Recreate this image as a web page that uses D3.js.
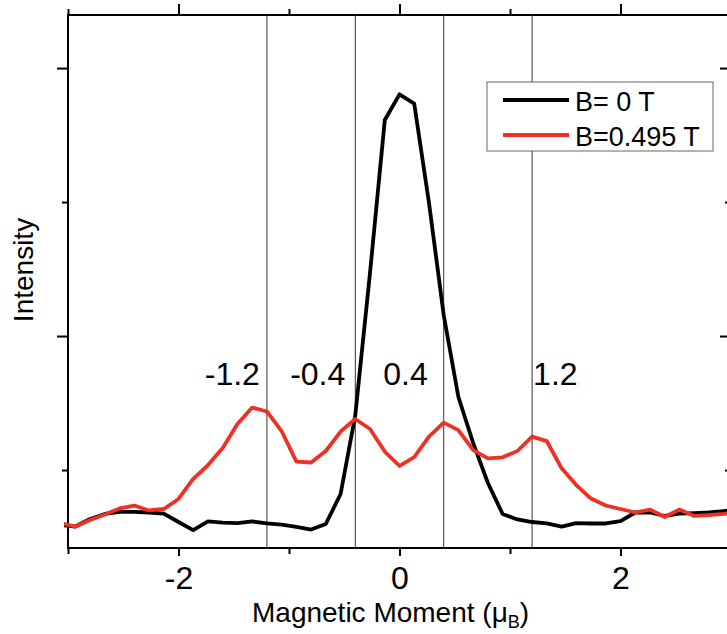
<!DOCTYPE html>
<html>
<head>
    <meta charset="utf-8">
    <title>Magnetic Moment distribution</title>
    <script src="https://cdn.jsdelivr.net/npm/d3@7"></script>
    <style>
        body { margin: 0; background: #fff; }
        text { font-family: "Liberation Sans", Arial, sans-serif; fill: #000; }
        .curve { fill: none; stroke-width: 3.8; stroke-linejoin: round; }
    </style>
</head>
<body>
<script>
    // Magnetic moment (mu_B) of each point, shared by both curves
    var moment = [-3.067, -2.933, -2.8, -2.667, -2.533, -2.4, -2.267, -2.133, -2.0, -1.867,
        -1.733, -1.6, -1.467, -1.333, -1.2, -1.067, -0.933, -0.8, -0.667, -0.533,
        -0.4, -0.267, -0.133, 0, 0.133, 0.267, 0.4, 0.533, 0.667, 0.8,
        0.933, 1.067, 1.2, 1.333, 1.467, 1.6, 1.733, 1.867, 2.0, 2.133,
        2.267, 2.4, 2.533, 2.667, 2.8, 2.933, 3.067];

    // Intensity (arb. units) at B = 0 T
    var intensityB0 = [590, 578, 634, 672, 687, 687, 683, 675, 612, 552,
        616, 608, 604, 616, 601, 593, 575, 556, 597, 821,
        1410, 2470, 3612, 3804, 3735, 2993, 2157, 1545, 1201, 903,
        672, 631, 612, 601, 578, 604, 601, 601, 619, 683,
        683, 657, 675, 679, 683, 694, 705];

    // Intensity (arb. units) at B = 0.495 T
    var intensityB495 = [604, 578, 627, 668, 713, 735, 698, 709, 784, 933,
        1037, 1164, 1343, 1466, 1437, 1291, 1063, 1056, 1142, 1287,
        1381, 1306, 1138, 1030, 1097, 1250, 1354, 1298, 1149, 1087,
        1095, 1142, 1249, 1216, 1013, 888, 787, 735, 709, 683,
        705, 649, 705, 657, 664, 672, 687];

    // Marked moments (vertical guides + labels)
    var markers = [-1.2, -0.4, 0.4, 1.2];
    var markerLabels = ["-1.2", "-0.4", "0.4", "1.2"];

    var seriesNames = ["B= 0 T", "B=0.495 T"];
    var seriesColors = ["#000000", "#ee3124"];

    var xMajorTicks = [-2, 0, 2];
    var xMinorTicks = [-3, -1, 1, 3];
    var yMajorTicks = [2000, 4000];
    var yMinorTicks = [1000, 3000];

    // Dimensions du svg et du cadre
    var width = 727,
        height = 634,
        frameLeft = 68, frameRight = 731, frameTop = 15, frameBottom = 548;

    var svg = d3.select("body").append("svg")
        .attr("width", width)
        .attr("height", height);

    var x = d3.scaleLinear().domain([-3, 3]).range([frameLeft, frameRight]);
    var y = d3.scaleLinear().domain([418, 4396]).range([frameBottom, frameTop]);

    // Axes (labels only on the bottom one)
    var bottomAxis = svg.append("g").attr("transform", "translate(0," + frameBottom + ")");
    bottomAxis.call(d3.axisBottom(x).tickValues(xMajorTicks).tickSize(8).tickPadding(10).tickFormat(d => String(d)));
    bottomAxis.append("g").call(d3.axisBottom(x).tickValues(xMinorTicks).tickSize(6).tickFormat(""));

    var topAxis = svg.append("g").attr("transform", "translate(0," + frameTop + ")");
    topAxis.call(d3.axisTop(x).tickValues(xMajorTicks).tickSize(11).tickFormat(""));
    topAxis.append("g").call(d3.axisTop(x).tickValues(xMinorTicks).tickSize(6).tickFormat(""));

    var leftAxis = svg.append("g").attr("transform", "translate(" + frameLeft + ",0)");
    leftAxis.call(d3.axisLeft(y).tickValues(yMajorTicks).tickSize(11).tickFormat(""));
    leftAxis.append("g").call(d3.axisLeft(y).tickValues(yMinorTicks).tickSize(6).tickFormat(""));

    var rightAxis = svg.append("g").attr("transform", "translate(" + frameRight + ",0)");
    rightAxis.call(d3.axisLeft(y).tickValues(yMajorTicks).tickSize(11).tickFormat(""));
    rightAxis.append("g").call(d3.axisLeft(y).tickValues(yMinorTicks).tickSize(6).tickFormat(""));

    svg.selectAll(".tick line").attr("stroke", "#000").attr("stroke-width", 2);
    bottomAxis.selectAll(".tick text").style("font-size", "32px").attr("fill", "#000");
    // d3 domain paths carry outer ticks: replace them by a plain frame
    svg.selectAll(".domain").remove();
    svg.append("rect")
        .attr("x", frameLeft).attr("y", frameTop)
        .attr("width", frameRight - frameLeft).attr("height", frameBottom - frameTop)
        .attr("fill", "none").attr("stroke", "#000").attr("stroke-width", 2);

    // Lignes verticales
    svg.selectAll(".marker")
        .data(markers)
        .enter().append("line")
        .attr("class", "marker")
        .attr("x1", d => x(d)).attr("x2", d => x(d))
        .attr("y1", frameTop).attr("y2", frameBottom)
        .attr("stroke", "#333").attr("stroke-width", 1);

    var labelAnchor = ["end", "end", "end", "start"];
    var labelShift = [-7, -10, -16, 1];
    svg.selectAll(".markerLabel")
        .data(markers)
        .enter().append("text")
        .attr("x", (d, i) => x(d) + labelShift[i])
        .attr("y", 385)
        .attr("text-anchor", (d, i) => labelAnchor[i])
        .style("font-size", "32px")
        .text((d, i) => markerLabels[i]);

    // Courbes
    svg.append("clipPath").attr("id", "clip")
        .append("rect").attr("x", 64).attr("y", 0).attr("width", width - 64).attr("height", frameBottom);

    var line = d3.line()
        .x((d, i) => x(moment[i]))
        .y(d => y(d));

    svg.append("path")
        .datum(intensityB0)
        .attr("class", "curve")
        .attr("clip-path", "url(#clip)")
        .attr("stroke", seriesColors[0])
        .attr("d", line);

    svg.append("path")
        .datum(intensityB495)
        .attr("class", "curve")
        .attr("clip-path", "url(#clip)")
        .attr("stroke", seriesColors[1])
        .attr("d", line);

    // Légende
    var legend = svg.append("g").attr("transform", "translate(487,82)");
    legend.append("rect")
        .attr("width", 226).attr("height", 69)
        .attr("fill", "#fff").attr("stroke", "#666").attr("stroke-width", 1);
    seriesNames.forEach(function(name, i) {
        legend.append("line")
            .attr("x1", 16).attr("x2", 82)
            .attr("y1", 18 + i * 35).attr("y2", 18 + i * 35)
            .attr("stroke", seriesColors[i]).attr("stroke-width", 3.8);
        legend.append("text")
            .attr("x", 88).attr("y", 29 + i * 35)
            .style("font-size", "27px")
            .text(name);
    });

    // Titres des axes
    var xTitle = svg.append("text")
        .attr("x", 252).attr("y", 622)
        .style("font-size", "28px");
    xTitle.append("tspan").text("Magnetic Moment (\u03bc");
    xTitle.append("tspan").attr("dy", 6).style("font-size", "18px").text("B");
    xTitle.append("tspan").attr("dy", -6).text(")");

    svg.append("text")
        .attr("transform", "translate(33,270) rotate(-90)")
        .attr("text-anchor", "middle")
        .style("font-size", "28px")
        .text("Intensity");
</script>
</body>
</html>
